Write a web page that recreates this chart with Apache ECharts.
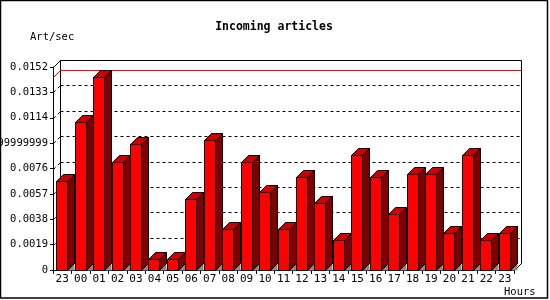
<!DOCTYPE html>
<html><head><meta charset="utf-8">
<script src="https://cdn.jsdelivr.net/npm/echarts@6/dist/echarts.min.js"></script>
<style>html,body{margin:0;padding:0;background:#fff}#c{width:550px;height:300px}</style>
</head><body><div id="c"></div>
<script>
const hours = ['23','00','01','02','03','04','05','06','07','08','09','10','11','12','13','14','15','16','17','18','19','20','21','22','23'];
const artPerSec = [0.00667,0.01111,0.01444,0.00806,0.00944,0.00083,0.00083,0.00528,0.00972,0.00306,0.00806,0.00583,0.00306,0.00694,0.00500,0.00222,0.00861,0.00694,0.00417,0.00722,0.00722,0.00278,0.00861,0.00222,0.00278];
const yTicks = [0,0.0019,0.0038,0.0057,0.0076,0.0095,0.0114,0.0133,0.0152];
const yTickLabels = ['0','0.0019','0.0038','0.0057','0.0076','0.0094999999999999','0.0114','0.0133','0.0152'];
const maxLineValue = 0.01444;
const titleText = 'Incoming articles';
const yName = 'Art/sec';
const xName = 'Hours';

const DX = 7, DY = 7;
const MONO = "'DejaVu Sans Mono', 'Liberation Mono', monospace";
const chart = echarts.init(document.getElementById('c'), null, {renderer:'canvas'});

function h(v){ return Math.round(v) + 0.5; }

const option = {
  animation: false,
  backgroundColor: '#fff',
  grid: { left: 53, top: 67, width: 461, height: 203, containLabel: false, outerBoundsMode: 'none' },
  xAxis: {
    type: 'category', data: hours,
    axisLine: { lineStyle: { color: '#000', width: 1 } },
    axisTick: { show: true, length: 4, lineStyle: { color: '#000' } },
    axisLabel: { color: '#000', fontFamily: MONO, fontSize: 11, margin: 4, interval: 0, hideOverlap: false },
    splitLine: { show: false }
  },
  yAxis: {
    type: 'value', min: 0, max: 0.0152, interval: 0.0019,
    axisLine: { show: true, lineStyle: { color: '#000', width: 1 } },
    axisTick: { show: true, length: 3, lineStyle: { color: '#000' } },
    axisLabel: { color: '#000', fontFamily: MONO, fontSize: 10.5, margin: 5,
      formatter: function (v) {
        const i = yTicks.findIndex(t => Math.abs(t - v) < 1e-9);
        return i >= 0 ? yTickLabels[i] : '';
      } },
    splitLine: { show: false }
  },
  graphic: [
    { type: 'rect', shape: { x: 0.5, y: 0.5, width: 547, height: 297.5 }, style: { fill: 'none', stroke: '#000', lineWidth: 1.5 }, z: 100 },
    { type: 'text', x: 274, y: 27, style: { text: titleText, font: "bold 11.5px " + MONO, fill: '#000', textAlign: 'center', textVerticalAlign: 'middle' } },
    { type: 'text', x: 30, y: 37, style: { text: yName, font: "10.5px " + MONO, fill: '#000', textAlign: 'left', textVerticalAlign: 'middle' } },
    { type: 'text', x: 504, y: 292, style: { text: xName, font: "10.5px " + MONO, fill: '#000', textAlign: 'left', textVerticalAlign: 'middle' } }
  ],
  series: [
    {
      type: 'custom', name: 'walls', data: [[0, 0]], silent: true, z: 1, clip: false,
      renderItem: function (params, api) {
        const cs = params.coordSys;
        const L = h(cs.x), T = h(cs.y), R = h(cs.x + cs.width), B = h(cs.y + cs.height);
        const solid = { stroke: '#000', lineWidth: 1, fill: null };
        const dotted = { stroke: '#000', lineWidth: 1, lineDash: [3, 3], fill: null };
        const ch = [];
        const line = (x1, y1, x2, y2, st) => ch.push({ type: 'line', shape: { x1, y1, x2, y2 }, style: st });
        line(L + DX, T - DY, R + DX, T - DY, solid);
        line(L + DX, T - DY, L + DX, B - DY, solid);
        line(R + DX, T - DY, R + DX, B - DY, solid);
        line(L, T, L + DX, T - DY, solid);
        line(R, B, R + DX, B - DY, solid);
        yTicks.forEach(function (t, i) {
          if (i === 0 || i === yTicks.length - 1) return;
          const y = h(api.coord([0, t])[1]);
          line(L + DX, y - DY, R + DX, y - DY, dotted);
          line(L, y, L + DX, y - DY, dotted);
        });
        const ym = h(api.coord([0, maxLineValue])[1]);
        ch.push({ type: 'polyline', shape: { points: [[L, ym], [L + DX, ym - DY], [R + DX, ym - DY]] }, style: { stroke: '#ff0000', lineWidth: 1, fill: null } });
        return { type: 'group', children: ch };
      }
    },
    {
      type: 'custom', name: 'Art/sec', silent: true, z: 3, clip: false,
      data: artPerSec.map((v, i) => [i, v]),
      renderItem: function (params, api) {
        const cat = api.value(0), v = api.value(1);
        const top = api.coord([cat, v]);
        const base = api.coord([cat, 0]);
        const x0 = Math.floor(top[0] - 5.5) + 0.5;
        const x1 = x0 + 11;
        const yT = h(top[1]);
        const yB = h(base[1]);
        const stroke = '#000';
        return { type: 'group', children: [
          { type: 'polygon', shape: { points: [[x1, yB], [x1 + DX, yB - DY], [x1 + DX, yB]] }, style: { fill: '#8a8a8a', stroke: null } },
          { type: 'polygon', shape: { points: [[x1, yT], [x1 + DX, yT - DY], [x1 + DX, yB - DY], [x1, yB]] }, style: { fill: '#800000', stroke, lineWidth: 1 } },
          { type: 'polygon', shape: { points: [[x0, yT], [x1, yT], [x1 + DX, yT - DY], [x0 + DX, yT - DY]] }, style: { fill: '#cc0000', stroke, lineWidth: 1 } },
          { type: 'rect', shape: { x: x0, y: yT, width: 11, height: yB - yT }, style: { fill: '#ff0000', stroke, lineWidth: 1 } }
        ] };
      }
    }
  ]
};
chart.setOption(option);
</script>
</body></html>
